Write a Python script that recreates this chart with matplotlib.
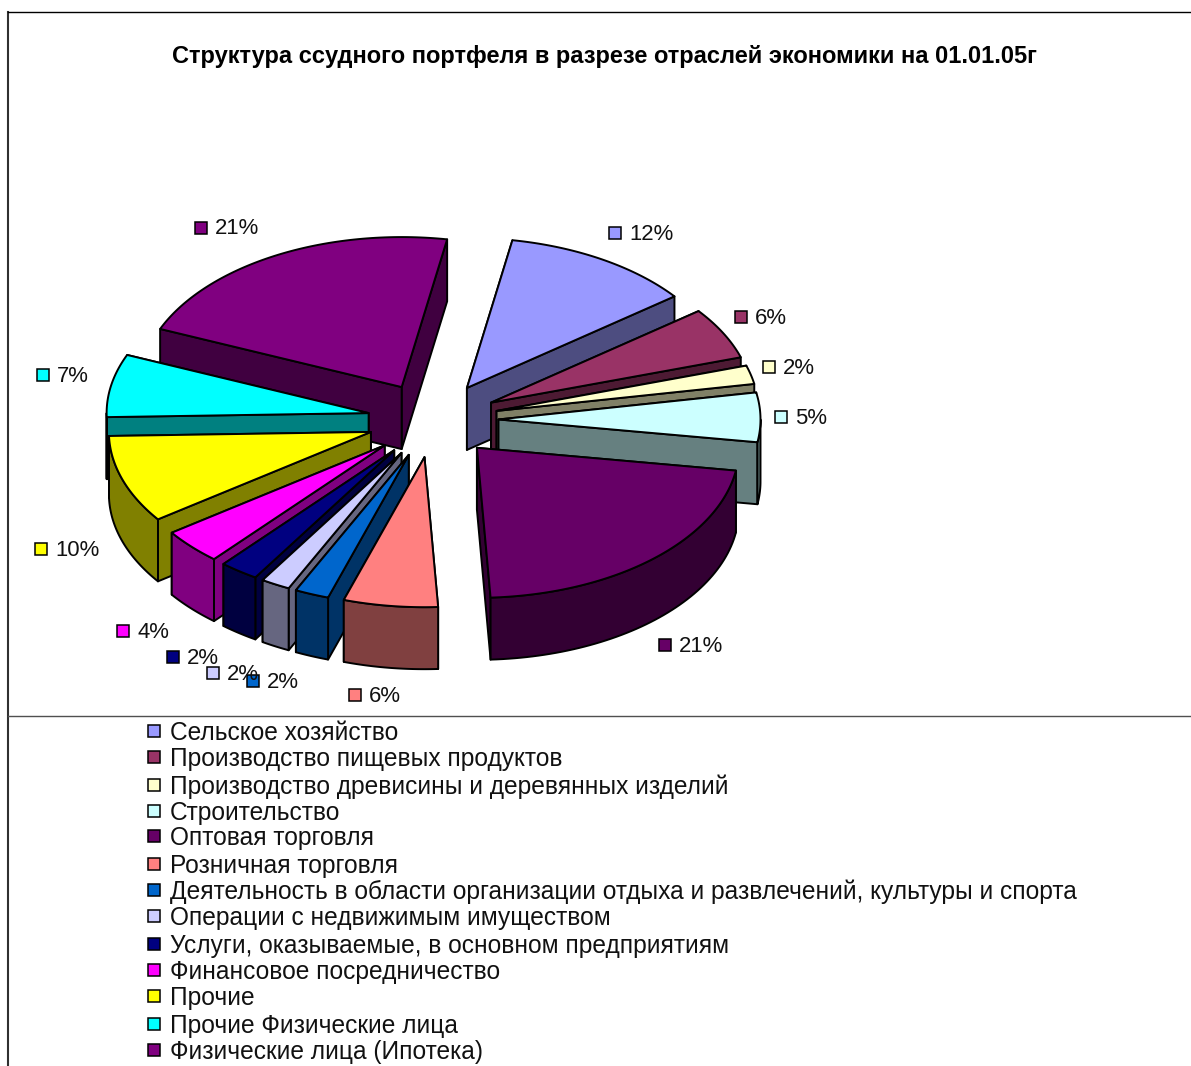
import numpy as np
import matplotlib
matplotlib.use("Agg")
import matplotlib.pyplot as plt
from matplotlib.colors import to_rgb
from matplotlib.patches import Polygon, Rectangle

plt.rcParams["font.family"] = ["Liberation Sans", "DejaVu Sans"]

# =============================
# DATA
# =============================
TITLE = "Структура ссудного портфеля в разрезе отраслей экономики на 01.01.05г"
categories = [
    "Сельское хозяйство",
    "Производство пищевых продуктов",
    "Производство древисины и деревянных изделий",
    "Строительство",
    "Оптовая торговля",
    "Розничная торговля",
    "Деятельность в области организации отдыха и развлечений, культуры и спорта",
    "Операции с недвижимым имуществом",
    "Услуги, оказываемые, в основном предприятиям",
    "Финансовое посредничество",
    "Прочие",
    "Прочие Физические лица",
    "Физические лица (Ипотека)",
]
# shares, the printed labels are rounded
values = [11.75, 5.55, 2.0, 5.3, 21.7, 5.8, 2.1, 1.8, 2.4, 3.8, 9.45, 6.75, 21.4]
labels = ["12%", "6%", "2%", "5%", "21%", "6%", "2%", "2%", "2%", "4%", "10%", "7%", "21%"]
colors = ["#9999FF", "#993366", "#FFFFCC", "#CCFFFF", "#660066", "#FF8080", "#0066CC",
          "#CCCCFF", "#000080", "#FF00FF", "#FFFF00", "#00FFFF", "#800080"]

# =============================
# LAYOUT (pixels)
# =============================
W, H = 1191, 1066
CX, CY = 433, 420
RX, RY = 262, 150
DEPTH = 62
EXPLODE = 0.25
START_ANGLE = 10
LABEL_POS = [(615, 233), (741, 317), (769, 367), (781, 417), (665, 645), (355, 695), (253, 681),
             (213, 673), (173, 657), (123, 631), (41, 549), (43, 375), (201, 228)]
LEGEND_Y = [731, 757, 785, 811, 836, 864, 890, 916, 944, 970, 996, 1024, 1050]
LW = 1.4


def rim(apex, a):
    # a is degrees clockwise from the top of the ellipse
    a = np.radians(a)
    return apex[0] + RX * np.sin(a), apex[1] - RY * np.cos(a)


def shift(pts):
    return [(x, y + DEPTH) for x, y in pts]


def draw_slice(ax, apex, a0, a1, color):
    side = tuple(c / 2 for c in to_rgb(color))
    style = dict(edgecolor="black", linewidth=LW, joinstyle="round")

    # cut faces, the one further from the viewer first
    for a in sorted((a0, a1), key=lambda k: rim(apex, k)[1]):
        edge = [apex, rim(apex, a)]
        ax.add_patch(Polygon(edge + shift(edge)[::-1], facecolor=side, **style))

    # outer wall, only the part that faces the viewer
    lo, hi = max(a0, 90), min(a1, 270)
    if hi > lo:
        arc = [rim(apex, a) for a in np.linspace(lo, hi, 60)]
        ax.add_patch(Polygon(arc + shift(arc)[::-1], facecolor=side, **style))

    # top
    arc = [rim(apex, a) for a in np.linspace(a0, a1, 80)]
    ax.add_patch(Polygon([apex] + arc, facecolor=color, **style))


fig = plt.figure(figsize=(W / 100, H / 100), dpi=100)
ax = fig.add_axes([0, 0, 1, 1])
ax.set_xlim(0, W)
ax.set_ylim(H, 0)
ax.axis("off")

# chart frame
ax.plot([8, 8], [12, H], color="#303030", lw=1.5)
ax.plot([8, W], [12, 12], color="black", lw=1.0)
ax.plot([8, W], [716, 716], color="#505050", lw=1.0)

ax.text(604, 56, TITLE, fontsize=17.0, fontweight="bold", ha="center", va="center")

# =============================
# PIE
# =============================
sweep = 360 * np.array(values) / sum(values)
ends = START_ANGLE + np.cumsum(sweep)
starts = ends - sweep
mids = np.radians((starts + ends) / 2)
apexes = [(CX + EXPLODE * RX * np.sin(m), CY - EXPLODE * RY * np.cos(m)) for m in mids]

# back slices first
for i in sorted(range(len(values)), key=lambda k: apexes[k][1]):
    draw_slice(ax, apexes[i], starts[i], ends[i], colors[i])

# =============================
# LABELS + LEGEND
# =============================
for (x, y), txt, c in zip(LABEL_POS, labels, colors):
    ax.add_patch(Rectangle((x - 6, y - 6), 12, 12, facecolor=c, edgecolor="black", lw=1.1, zorder=5))
    ax.text(x + 14, y + 1, txt, fontsize=15.9, ha="left", va="center", color="#111111", zorder=6)

for y, name, c in zip(LEGEND_Y, categories, colors):
    ax.add_patch(Rectangle((147.5, y - 6), 12, 12, facecolor=c, edgecolor="black", lw=1.1))
    ax.text(170, y + 2, name, fontsize=17.65, ha="left", va="center", color="#111111")

fig.savefig("out.png", dpi=100)
